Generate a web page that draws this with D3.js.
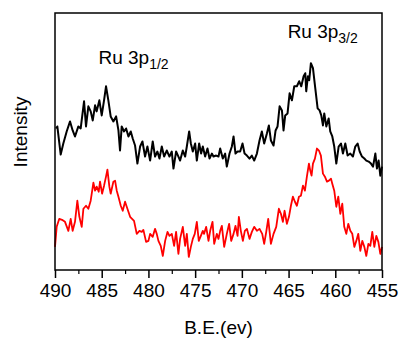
<!DOCTYPE html>
<html>
<head>
<meta charset="utf-8">
<script src="https://cdn.jsdelivr.net/npm/d3@7"></script>
<style>
  body { margin: 0; background: #fff; }
  text { font-family: "Liberation Sans", Arial, sans-serif; fill: #000; }
</style>
</head>
<body>
<div id="chart"></div>
<script>
// binding energy ticks (eV)
const xTicks = [490, 485, 480, 475, 470, 465, 460, 455];
const minorTicks = [487.5, 482.5, 477.5, 472.5, 467.5, 462.5, 457.5];

// upper (black) spectrum: [B.E., intensity a.u.]
const blackSpectrum = [
  [489.89,141],[489.75,143],[489.39,115],[489.11,126],[488.75,138],[488.39,148],[488.11,139],[487.86,133],
  [487.5,143],[487.25,141],[486.89,168],[486.68,143],[486.43,163],[486.18,158],[485.96,149],[485.71,164],
  [485.54,158],[485.25,169],[485,154],[484.75,169],[484.54,183],[484.29,169],[484.04,153],[483.75,148],
  [483.46,153],[483.21,139],[483.04,119],[482.86,143],[482.61,138],[482.39,141],[482.14,133],[481.89,138],
  [481.68,131],[481.43,124],[481.18,106],[480.89,123],[480.64,128],[480.36,113],[480.11,123],[479.82,109],
  [479.54,128],[479.29,113],[479.04,118],[478.82,111],[478.57,123],[478.32,113],[478.04,119],[477.75,113],
  [477.5,118],[477.32,101],[477.04,118],[476.79,113],[476.61,109],[476.32,119],[476.07,113],[475.89,123],
  [475.64,138],[475.46,126],[475.25,118],[475,126],[474.82,109],[474.57,126],[474.36,116],[474.18,123],
  [473.93,113],[473.68,121],[473.46,111],[473.21,116],[473.04,113],[472.75,114],[472.5,113],[472.32,121],
  [472.04,111],[471.79,116],[471.61,103],[471.32,116],[471.07,123],[470.89,133],[470.68,116],[470.46,118],
  [470.18,118],[469.93,126],[469.71,116],[469.46,114],[469.18,111],[468.93,114],[468.68,109],[468.39,116],
  [468.11,129],[467.86,138],[467.61,126],[467.32,136],[467.11,144],[466.89,129],[466.61,124],[466.39,139],
  [466.18,143],[465.96,163],[465.71,159],[465.54,139],[465.36,154],[465.11,156],[464.89,176],[464.64,169],
  [464.39,183],[464.11,183],[463.86,188],[463.64,183],[463.39,193],[463.21,196],[463.11,178],[462.93,193],
  [462.79,189],[462.61,206],[462.39,201],[462.14,181],[461.89,161],[461.68,159],[461.5,154],[461.32,144],
  [461.18,156],[460.96,143],[460.71,151],[460.54,138],[460.32,133],[460.11,123],[459.89,106],[459.64,123],
  [459.39,126],[459.18,116],[458.93,126],[458.68,114],[458.39,116],[458.11,113],[457.86,123],[457.61,126],
  [457.39,118],[457.14,113],[456.89,111],[456.68,109],[456.43,108],[456.18,106],[455.96,103],[455.71,116],
  [455.54,101],[455.36,109],[455.18,94],[455,103]
];

// lower (red) spectrum: [B.E., intensity a.u.]
const redSpectrum = [
  [490,23],[489.82,43],[489.54,51],[489.25,50],[488.93,48],[488.57,39],[488.32,51],[488.11,39],
  [487.86,48],[487.61,69],[487.39,53],[487.14,43],[486.96,61],[486.68,64],[486.43,61],[486.18,69],
  [485.89,87],[485.71,79],[485.54,83],[485.32,78],[485.18,88],[484.96,76],[484.75,84],[484.54,93],
  [484.39,100],[484.18,83],[484.04,76],[483.75,88],[483.57,89],[483.39,79],[483.21,73],[482.96,64],
  [482.75,59],[482.5,68],[482.25,61],[481.96,53],[481.75,51],[481.54,49],[481.25,36],[480.96,39],
  [480.71,38],[480.54,40],[480.25,28],[480,29],[479.82,36],[479.54,33],[479.29,41],[479.11,36],
  [478.93,29],[478.68,24],[478.46,14],[478.21,29],[477.96,38],[477.75,34],[477.5,36],[477.25,24],
  [477.04,38],[476.79,16],[476.61,31],[476.32,43],[476.07,24],[475.89,36],[475.68,13],[475.46,23],
  [475.25,31],[475.04,36],[474.82,48],[474.61,29],[474.39,34],[474.18,39],[474.04,36],[473.82,43],
  [473.57,29],[473.39,39],[473.14,48],[472.96,26],[472.68,36],[472.5,31],[472.32,39],[472.14,44],
  [471.89,23],[471.61,36],[471.36,46],[471.14,29],[470.89,36],[470.68,44],[470.46,34],[470.32,53],
  [470.11,39],[469.89,29],[469.68,39],[469.46,41],[469.18,31],[468.93,38],[468.68,43],[468.39,39],
  [468.11,41],[467.82,36],[467.61,26],[467.39,38],[467.18,51],[467.04,39],[466.89,26],[466.61,36],
  [466.32,43],[466.04,61],[465.82,56],[465.61,48],[465.43,59],[465.18,46],[464.96,53],[464.75,64],
  [464.54,73],[464.32,68],[464.11,64],[463.89,73],[463.68,74],[463.46,84],[463.25,79],[463.04,93],
  [462.82,106],[462.68,99],[462.54,94],[462.39,106],[462.18,111],[461.96,121],[461.75,119],[461.54,114],
  [461.32,96],[461.11,93],[460.89,88],[460.68,89],[460.46,91],[460.32,86],[460.11,79],[459.89,63],
  [459.68,73],[459.46,56],[459.25,66],[459.04,43],[458.82,36],[458.61,46],[458.39,39],[458.18,36],
  [457.96,23],[457.75,29],[457.54,36],[457.32,19],[457.11,29],[456.89,23],[456.68,14],[456.46,26],
  [456.25,24],[456.04,38],[455.82,23],[455.61,34],[455.39,28],[455.18,16],[455,23]
];

// peak labels: [B.E. of label start, intensity of baseline, main, subscript]
const peakLabels = [
  [485.35, 205, "Ru 3p", "1/2"],
  [465.1, 231, "Ru 3p", "3/2"]
];

const width = 400, height = 342;
const plot = { left: 55, right: 382, top: 13, bottom: 270 };

const svg = d3.select("#chart").append("svg")
  .attr("width", width)
  .attr("height", height);

const x = d3.scaleLinear().domain([490, 455]).range([plot.left, plot.right]);
const y = d3.scaleLinear().domain([0, 256]).range([plot.bottom, plot.top]);

const line = d3.line()
  .x(d => x(d[0]))
  .y(d => y(d[1]));

svg.append("path")
  .datum(blackSpectrum)
  .attr("d", line)
  .style("fill", "none")
  .style("stroke", "#000")
  .style("stroke-width", 2)
  .style("stroke-linejoin", "round");

svg.append("path")
  .datum(redSpectrum)
  .attr("d", line)
  .style("fill", "none")
  .style("stroke", "#ff0000")
  .style("stroke-width", 1.8)
  .style("stroke-linejoin", "round");

// frame
svg.append("rect")
  .attr("x", plot.left)
  .attr("y", plot.top)
  .attr("width", plot.right - plot.left)
  .attr("height", plot.bottom - plot.top)
  .style("fill", "none")
  .style("stroke", "#000")
  .style("stroke-width", 1.5);

// bottom axis, major + minor ticks
const xAxis = svg.append("g")
  .attr("transform", "translate(0," + plot.bottom + ")")
  .call(d3.axisBottom(x).tickValues(xTicks).tickSize(8).tickPadding(6).tickFormat(d3.format("d")));
xAxis.select(".domain").remove();
xAxis.selectAll(".tick line").style("stroke-width", 1.5);
xAxis.selectAll("text")
  .style("font-size", "19px")
  .style("font-family", "'Liberation Sans', Arial, sans-serif");

const minor = svg.append("g")
  .attr("transform", "translate(0," + plot.bottom + ")")
  .call(d3.axisBottom(x).tickValues(minorTicks).tickSize(4).tickFormat(""));
minor.select(".domain").remove();
minor.selectAll(".tick line").style("stroke-width", 1.2);

svg.append("text")
  .attr("x", (plot.left + plot.right) / 2)
  .attr("y", 334)
  .attr("text-anchor", "middle")
  .style("font-size", "19px")
  .text("B.E.(ev)");

svg.append("text")
  .attr("transform", "translate(27,132) rotate(-90)")
  .attr("text-anchor", "middle")
  .style("font-size", "19px")
  .text("Intensity");

peakLabels.forEach(p => {
  const t = svg.append("text")
    .attr("x", x(p[0]))
    .attr("y", y(p[1]))
    .style("font-size", "19px")
    .text(p[2]);
  t.append("tspan")
    .attr("dy", 5)
    .style("font-size", "14px")
    .text(p[3]);
});
</script>
</body>
</html>
